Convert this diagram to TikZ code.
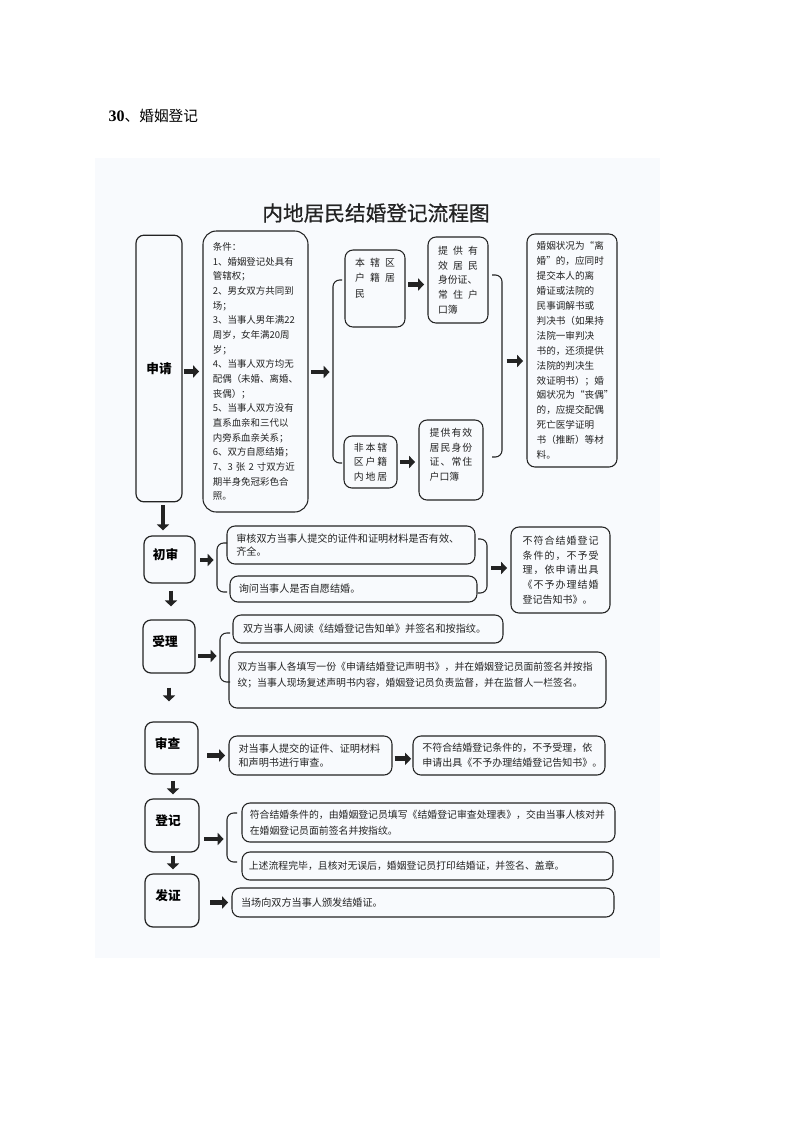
\documentclass[tikz,border=0pt]{standalone}
\usepackage{fontspec}
\setmainfont{Liberation Serif}
\newfontfamily\cjk{Noto Sans CJK SC}
\newfontfamily\cjkhead{Noto Sans CJK SC}[FakeBold=0.6]
\usetikzlibrary{arrows.meta}
\definecolor{scanbg}{RGB}{248,250,253}
\definecolor{ink}{RGB}{35,35,35}
\newcommand{\spr}[1]{\makebox[\hsize][s]{\spaceskip=0pt plus 1fil\relax #1}}
\tikzset{
  stepbox/.style={draw=ink, line width=0.9pt, rounded corners=6pt, inner sep=0pt,
    font=\cjk\bfseries\fontsize{9.5}{11}\selectfont, text=black},
  stepsmall/.style={stepbox, text depth=8pt, execute at end node={\kern6pt}},
  infobox/.style={draw=ink, line width=0.8pt, rounded corners=6pt, inner sep=0pt,
    align=left, text=ink, font=\cjk\fontsize{7.5}{11}\selectfont},
  bigarrow/.style={-{Triangle[length=4.5pt,width=9pt]}, line width=3.6pt, ink,
    shorten <=2pt, shorten >=2.5pt},
  brace/.style={ink, line width=0.8pt, rounded corners=5pt}
}

\begin{document}
\begin{tikzpicture}[x=0.75pt, y=-0.75pt]
  \useasboundingbox (0,0) rectangle (793,1122);
  \fill[scanbg] (95,158) rectangle (660,958);
  \node[anchor=west, font=\fontsize{12}{14}\selectfont] (head) at (104,116)
    {\textbf{30}{\cjk\fontsize{11}{14}\selectfont 、婚姻登记}};
  \node[font=\cjkhead\fontsize{15.5}{18}\selectfont, text=ink] (title) at (376,213) {内地居民结婚登记流程图};

  % 申请
  \node[stepbox, minimum width=34.5pt, minimum height=200pt] (sq) at (159,368.5) {申请};
  \node[infobox, rounded corners=10pt, font=\cjk\fontsize{7.1}{11}\selectfont,
    text width=64pt, minimum width=78.75pt, minimum height=210.75pt] (cond) at (255.5,371.5)
    {条件：\\1、婚姻登记处具有\\管辖权；\\2、男女双方共同到\\场；\\3、当事人男年满22\\
     周岁，女年满20周\\岁；\\4、当事人双方均无\\配偶（未婚、离婚、\\丧偶）；\\
     5、当事人双方没有\\直系血亲和三代以\\内旁系血亲关系；\\6、双方自愿结婚；\\
     7、3 张 2 寸双方近\\期半身免冠彩色合\\照。};
  \node[infobox, font=\cjk\fontsize{7.4}{11.8}\selectfont, text width=30pt, text depth=40pt,
    minimum width=45pt, minimum height=57.75pt] (local) at (375,288.5)
    {\spr{本 辖 区}\\\spr{户 籍 居}\\民};
  \node[infobox, font=\cjk\fontsize{7.4}{11}\selectfont, text width=30pt,
    minimum width=45pt, minimum height=64.5pt] (docA) at (458,280)
    {\spr{提 供 有}\\\spr{效 居 民}\\身份证、\\\spr{常 住 户}\\口簿};
  \node[infobox, font=\cjk\fontsize{7.4}{10.9}\selectfont, text width=25pt,
    minimum width=39.75pt, minimum height=39pt] (nonlocal) at (370.5,462)
    {\spr{非 本 辖}\\\spr{区 户 籍}\\\spr{内 地 居}};
  \node[infobox, font=\cjk\fontsize{7.4}{11}\selectfont, text width=32pt, text depth=41.5pt,
    minimum width=48pt, minimum height=60pt] (docB) at (451,460)
    {\spr{提 供 有 效}\\\spr{居 民 身 份}\\\spr{证 、 常 住}\\户口簿};
  \node[infobox, font=\cjk\fontsize{7.2}{11.2}\selectfont, text width=53pt,
    minimum width=67.5pt, minimum height=174.75pt] (marr) at (572,350.5)
    {婚姻状况为“离\\婚”的，应同时\\提交本人的离\\婚证或法院的\\民事调解书或\\
     判决书（如果持\\法院一审判决\\书的，还须提供\\法院的判决生\\效证明书）；婚\\
     姻状况为“丧偶”\\的，应提交配偶\\死亡医学证明\\书（推断）等材\\料。};
  \coordinate (brA) at (333,372);
  \coordinate (brB) at (502,361);
  \draw[brace] (342,280) -- (333,280) -- (333,463) -- (342,463);
  \draw[brace] (492,275) -- (502,275) -- (502,457) -- (492,457);
  \draw[bigarrow, shorten <=1pt] (sq.east |- cond.west) -- (cond.west);
  \draw[bigarrow] (cond.east |- brA) -- (brA);
  \draw[bigarrow] ([yshift=3pt]local.east) -- ([yshift=3pt]local.east -| docA.west);
  \draw[bigarrow] (nonlocal.east) -- (nonlocal.east -| docB.west);
  \draw[bigarrow, shorten <=3.5pt] (brB) -- (brB -| marr.west);

  % 初审
  \node[stepsmall, minimum width=38.25pt, minimum height=35.25pt] (chu) at (169.5,559.5) {初审};
  \node[infobox, font=\cjk\fontsize{7.6}{10}\selectfont, text width=172pt,
    minimum width=186pt, minimum height=28.5pt] (chkA) at (351,545)
    {审核双方当事人提交的证件和证明材料是否有效、\\齐全。};
  \node[infobox, font=\cjk\fontsize{7.6}{10}\selectfont, text width=172pt,
    minimum width=185.25pt, minimum height=19.5pt] (chkB) at (353.5,589)
    {询问当事人是否自愿结婚。};
  \node[infobox, text width=57pt, minimum width=74.25pt, minimum height=64.5pt] (rejA) at (560.5,570)
    {\spr{不 符 合 结 婚 登 记}\\\spr{条 件 的 ， 不 予 受}\\\spr{理 ， 依 申 请 出 具}\\
     \spr{《 不 予 办 理 结 婚}\\登记告知书》。};
  \coordinate (brC) at (217,560);
  \coordinate (brD) at (487,568);
  \draw[brace] (227,543) -- (217,543) -- (217,592) -- (227,592);
  \draw[brace] (478,539) -- (487,539) -- (487,593) -- (478,593);
  \draw[bigarrow, shorten <=3.5pt] (chu.east |- brC) -- (brC);
  \draw[bigarrow, shorten <=3pt] (brD) -- (brD -| rejA.west);

  % 受理
  \node[stepsmall, minimum width=39pt, minimum height=39.75pt] (shou) at (169,646.5) {受理};
  \node[infobox, font=\cjk\fontsize{7.6}{10}\selectfont, text width=187.5pt,
    minimum width=202.5pt, minimum height=21pt] (readA) at (368,629)
    {双方当事人阅读《结婚登记告知单》并签名和按指纹。};
  \node[infobox, font=\cjk\fontsize{7.4}{12}\selectfont, text width=270pt, text depth=20.5pt,
    minimum width=282.75pt, minimum height=42pt] (fillB) at (417.5,680)
    {双方当事人各填写一份《申请结婚登记声明书》，并在婚姻登记员面前签名并按指\\
     纹；当事人现场复述声明书内容，婚姻登记员负责监督，并在监督人一栏签名。};
  \coordinate (brE) at (220,656);
  \draw[brace] (230,633) -- (220,633) -- (220,682) -- (230,682);
  \draw[bigarrow] (shou.east |- brE) -- (brE);

  % 审查
  \node[stepsmall, minimum width=39.75pt, minimum height=39pt] (shen) at (171.5,748) {审查};
  \node[infobox, font=\cjk\fontsize{7.6}{11}\selectfont, text width=108pt,
    minimum width=122.25pt, minimum height=29.25pt] (exam) at (310.5,755.5)
    {对当事人提交的证件、证明材料\\和声明书进行审查。};
  \node[infobox, font=\cjk\fontsize{7.5}{11}\selectfont, text width=130pt,
    minimum width=144pt, minimum height=29.25pt] (rejB) at (509,755.5)
    {不符合结婚登记条件的，不予受理，依\\申请出具《不予办理结婚登记告知书》。};
  \draw[bigarrow, shorten <=6.5pt] (shen.east |- exam.west) -- (exam.west);
  \draw[bigarrow, shorten <=1.5pt, shorten >=1pt] ([yshift=-2.5pt]exam.east) -- ([yshift=-2.5pt]exam.east -| rejB.west);

  % 登记
  \node[stepsmall, minimum width=40.5pt, minimum height=39.75pt] (deng) at (172,825.5) {登记};
  \node[infobox, font=\cjk\fontsize{7.4}{12}\selectfont, text width=268pt,
    minimum width=279.75pt, minimum height=29.25pt] (regA) at (428.5,822.5)
    {符合结婚条件的，由婚姻登记员填写《结婚登记审查处理表》，交由当事人核对并\\
     在婚姻登记员面前签名并按指纹。};
  \node[infobox, font=\cjk\fontsize{7.4}{12}\selectfont, text width=268pt,
    minimum width=278.25pt, minimum height=21pt] (regB) at (427.5,866)
    {上述流程完毕，且核对无误后，婚姻登记员打印结婚证，并签名、盖章。};
  \coordinate (brF) at (227,839);
  \draw[brace] (237,813) -- (227,813) -- (227,862) -- (237,862);
  \draw[bigarrow, shorten <=3.5pt] (deng.east |- brF) -- (brF);

  % 发证
  \node[stepsmall, minimum width=40.5pt, minimum height=39.75pt] (fa) at (172,900.5) {发证};
  \node[infobox, font=\cjk\fontsize{7.6}{11}\selectfont, text width=273pt,
    minimum width=286.5pt, minimum height=21.75pt] (issue) at (423,902.5)
    {当场向双方当事人颁发结婚证。};
  \draw[bigarrow, shorten <=8pt] (fa.east |- issue.west) -- (issue.west);

  % down arrows between the steps
  \foreach \a/\b/\dx/\s/\e in {sq/chu/3pt/2.25pt/3.75pt, chu/shou/1.1pt/5.25pt/9.75pt,
      shou/shen/0pt/10.5pt/15pt, shen/deng/1.1pt/4.5pt/3pt, deng/fa/0.75pt/2.25pt/3pt}
    \draw[bigarrow, shorten <=\s, shorten >=\e] ([xshift=\dx]\a.south) -- ([xshift=\dx]\a.south |- \b.north);
\end{tikzpicture}
\end{document}
